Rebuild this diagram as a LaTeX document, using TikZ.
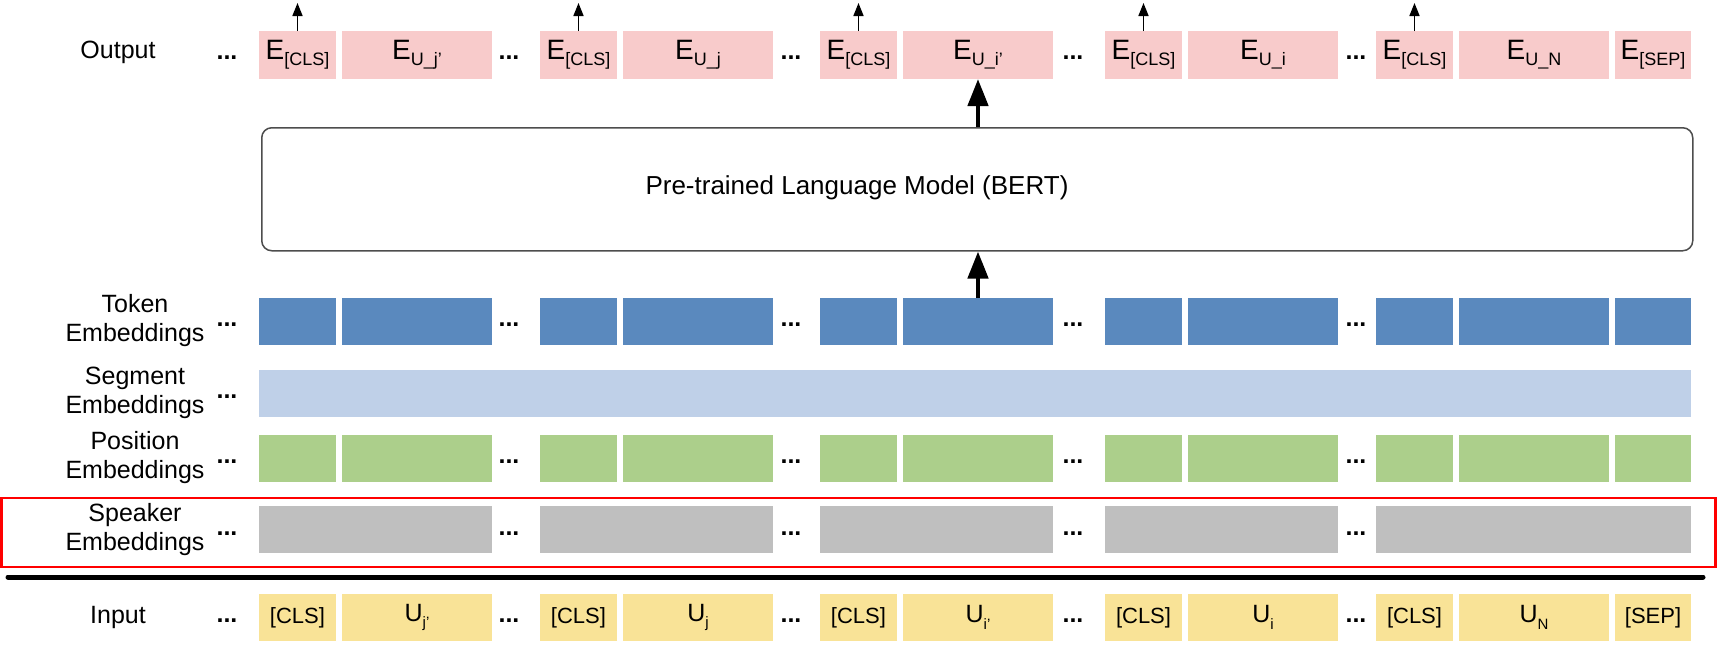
\documentclass[tikz,border=0pt]{standalone}
\usepackage{fontspec}
\setmainfont{Liberation Sans}
\usetikzlibrary{arrows.meta}
\definecolor{outpink}{HTML}{F8CBCB}
\definecolor{tokblue}{HTML}{5A89BE}
\definecolor{segblue}{HTML}{BFD0E8}
\definecolor{posgreen}{HTML}{ACCF8B}
\definecolor{spkgrey}{HTML}{BFBFBF}
\definecolor{inpyellow}{HTML}{F9E397}
\definecolor{bertline}{HTML}{4D4D4D}
\newcommand\Esub[1]{E\raisebox{-0.22em}{\fontsize{18}{18}\selectfont #1}}
\newcommand\Usub[1]{{\fontsize{25}{25}\selectfont U}\raisebox{-0.3em}{\fontsize{15}{15}\selectfont #1}}
\tikzset{
  cell/.style={draw=none, inner sep=0pt, outer sep=0pt, anchor=north west, minimum height=47pt},
  outcell/.style={cell, fill=outpink, minimum height=48pt, font=\fontsize{28}{30}\selectfont},
  tokcell/.style={cell, fill=tokblue},
  segcell/.style={cell, fill=segblue},
  poscell/.style={cell, fill=posgreen},
  spkcell/.style={cell, fill=spkgrey},
  inpcell/.style={cell, fill=inpyellow, font=\fontsize{22}{24}\selectfont},
  rowlabel/.style={align=center, inner sep=0pt, font=\fontsize{25}{29}\selectfont},
  dots/.style={inner sep=0pt, font=\fontsize{25}{25}\selectfont\bfseries},
  thinarrow/.style={line width=1.6pt, -{Triangle[length=13pt,width=10pt]}},
  thickarrow/.style={line width=4.5pt, -{Triangle[length=27pt,width=20pt]}},
}
\begin{document}
\begin{tikzpicture}[x=1pt,y=-1pt]
\useasboundingbox (0,0) rectangle (1717,649);

% row labels
\node[rowlabel] (lout) at (118,52) {Output};
\node[rowlabel] (ltok) at (135,321) {Token\\Embeddings};
\node[rowlabel] (lseg) at (135,393) {Segment\\Embeddings};
\node[rowlabel] (lpos) at (135,458) {Position\\Embeddings};
\node[rowlabel] (lspk) at (135,530) {Speaker\\Embeddings};
\node[rowlabel] (linp) at (118,617) {Input};

% cells
\foreach \i/\a/\ou/\iu in {1/259/{U\_j'}/{j’},2/540/{U\_j}/{j},3/820/{U\_i'}/{i’},4/1105/{U\_i}/{i},5/1376/{U\_N}/{N}} {
  \node[outcell, minimum width=77pt] (oc\i) at (\a,31) {\Esub{[CLS]}};
  \node[outcell, minimum width=150pt] (ou\i) at (\a+83,31) {\Esub{\ou}};
  \node[tokcell, minimum width=77pt] (tc\i) at (\a,298) {};
  \node[tokcell, minimum width=150pt] (tu\i) at (\a+83,298) {};
  \node[poscell, minimum width=77pt] (pc\i) at (\a,435) {};
  \node[poscell, minimum width=150pt] (pu\i) at (\a+83,435) {};
  \node[inpcell, minimum width=77pt] (ic\i) at (\a,594) {[CLS]};
  \node[inpcell, minimum width=150pt] (iu\i) at (\a+83,594) {\Usub{\iu}};
  \draw[thinarrow] (oc\i.north) -- ++(0,-28);
}
\foreach \i/\a in {1/259,2/540,3/820,4/1105} {
  \node[spkcell, minimum width=233pt] (s\i) at (\a,506) {};
}
\node[spkcell, minimum width=315pt] (s5) at (1376,506) {};
\node[segcell, minimum width=1432pt] (seg) at (259,370) {};
\node[outcell, minimum width=76pt] (osep) at (1615,31) {\Esub{[SEP]}};
\node[tokcell, minimum width=76pt] (tsep) at (1615,298) {};
\node[poscell, minimum width=76pt] (psep) at (1615,435) {};
\node[inpcell, minimum width=76pt] (isep) at (1615,594) {[SEP]};

% dots
\foreach \x [count=\k] in {227,509,791,1073,1356} {
  \node[dots] (do\k) at (\x,58) {...};
  \node[dots] (dt\k) at (\x,325) {...};
  \node[dots] (dp\k) at (\x,462) {...};
  \node[dots] (ds\k) at (\x,534) {...};
  \node[dots] (di\k) at (\x,621) {...};
}
\node[dots] (dseg) at (227,397) {...};

% BERT box
\node[draw=bertline, line width=1.5pt, rounded corners=10pt, minimum width=1431pt, minimum height=123pt, anchor=north west, inner sep=0pt] (bert) at (261,127) {};
\node[inner sep=0pt, font=\fontsize{26}{28}\selectfont] (berttext) at (857,188) {Pre-trained Language Model (BERT)};

\draw[thickarrow] (tu3.north) -- (tu3.north |- bert.south);
\draw[thickarrow] (ou3.south |- bert.north) -- (ou3.south);

% speaker highlight and separator
\draw[red, line width=2.5pt] (1.5,498) rectangle (1715.5,567);
\draw[line width=5pt, line cap=round] (8,577) -- (1703,577);
\end{tikzpicture}
\end{document}
